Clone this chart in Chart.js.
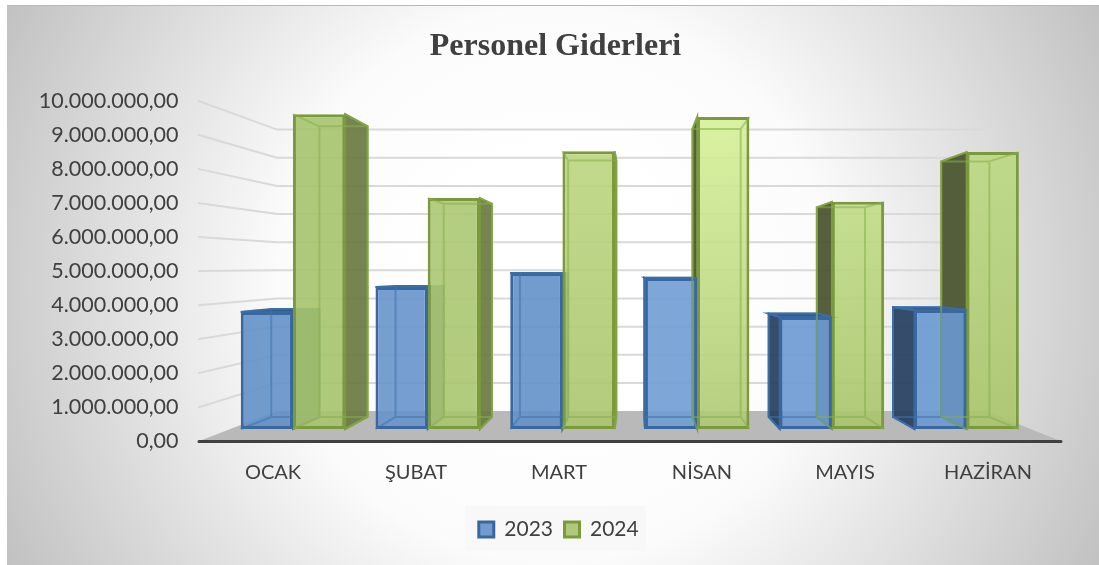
<!DOCTYPE html>
<html lang="tr">
<head>
<meta charset="utf-8">
<title>Personel Giderleri</title>
<style>html,body{margin:0;padding:0;background:#fff}#w{position:relative;width:1099px;height:565px}</style>
<script src="https://cdn.jsdelivr.net/npm/chart.js@4"></script>
</head>
<body>
<div id="w"><canvas id="c" width="1099" height="565"></canvas></div>
<script>
const categories = ['OCAK','ŞUBAT','MART','NİSAN','MAYIS','HAZİRAN'];
const series2023 = [3670000,4450000,4890000,4730000,3510000,3730000];
const series2024 = [9870000,7240000,8710000,9780000,7120000,8680000];
const yearLabels = ['2023','2024'];

const depth = {a:0.923, dx:49, dy:21};
const rear = f => ({x1:depth.dx+depth.a*f.x1, x2:depth.dx+depth.a*f.x2, t:depth.dy+depth.a*f.t, b:depth.dy+depth.a*f.b});
const wall = {a:0.826, dx:113.5, dy:46.4, left:198, backLeft:277, backRight:985, right:1062};
const greenTones = [['#a6c46c','#a6c46c'],['#acc873','#a9c56e'],['#bcd680','#a9c56e'],['#d6f198','#adc973'],['#c0dc85','#a9c56c'],['#bcd982','#a9c56c']];
const blueTone = ['#6491c9','#6894cb','#6491c9','#709dd3','#6c9ad3','#6a98d1'];
const edges = [
  {edge:'#38689f', wire:'rgba(60,115,175,.55)', left:'rgba(38,62,95,.92)', right:'rgba(45,80,125,.85)', top:'rgba(40,80,130,.95)'},
  {edge:'#7b9a3c', wire:'rgba(135,175,75,.55)', left:'rgba(72,82,45,.92)', right:'rgba(105,122,65,.92)', top:'rgba(105,122,65,.92)'}
];
function poly(ctx, pts, fill, stroke){
  ctx.beginPath();
  pts.forEach((p,i)=> i ? ctx.lineTo(p[0],p[1]) : ctx.moveTo(p[0],p[1]));
  ctx.closePath();
  if(fill){ctx.fillStyle=fill;ctx.fill();}
  if(stroke){ctx.strokeStyle=stroke;ctx.lineWidth=2;ctx.stroke();}
}
function faces(el){
  const w=el.width/2;
  const f={x1:el.x-w,x2:el.x+w,t:el.y,b:el.base};
  return {f,r:rear(f)};
}
function wire(chart,index){
  const ctx=chart.ctx, c=edges[index];
  ctx.save();
  ctx.strokeStyle=c.wire; ctx.lineWidth=2;
  chart.getDatasetMeta(index).data.forEach(el=>{
    const {f,r}=faces(el);
    ctx.beginPath();
    ctx.rect(r.x1,r.t,r.x2-r.x1,r.b-r.t);
    [[f.x1,f.t,r.x1,r.t],[f.x2,f.t,r.x2,r.t],[f.x1,f.b,r.x1,r.b],[f.x2,f.b,r.x2,r.b]].forEach(s=>{ctx.moveTo(s[0],s[1]);ctx.lineTo(s[2],s[3]);});
    ctx.stroke();
  });
  ctx.restore();
}
const box3d = {
  id:'box3d',
  beforeDraw(chart){
    const ctx=chart.ctx;
    const g=ctx.createRadialGradient(553,285,120,553,285,640);
    g.addColorStop(0,'#ffffff');
    g.addColorStop(.3,'#fbfbfb');
    g.addColorStop(1,'#bdbdbd');
    ctx.save();
    ctx.fillStyle=g;
    ctx.fillRect(7,5,1092,560);
    ctx.fillStyle='#b8b8b8';
    ctx.fillRect(7,5,1092,1);
    ctx.fillStyle='rgba(247,247,247,.9)';
    ctx.fillRect(465,506,181,45);
    ctx.restore();
  },
  afterLayout(chart){
    const xb=chart.scales.xBars, yb=chart.scales.yBars;
    xb.left=225.6; xb.right=1034; xb.width=808.4; xb.configure();
    yb.top=110; yb.bottom=429; yb.height=319; yb.configure();
    const t=chart.titleBlock; t.left=0; t.right=1111;
    const l=chart.legend; l.left+=29; l.right+=29; l.top+=6; l.bottom+=6;
  },
  beforeDatasetsDraw(chart){
    const ctx=chart.ctx, y=chart.scales.y;
    ctx.save();
    const fy=y.getPixelForValue(0), by=wall.dy+wall.a*fy;
    poly(ctx,[[wall.left,fy],[wall.right,fy],[wall.backRight,by],[wall.backLeft,by]],'#b9b9b9');
    ctx.strokeStyle='#d9d9d9'; ctx.lineWidth=2;
    y.ticks.forEach(t=>{
      if(t.value===0) return;
      const p=y.getPixelForValue(t.value), b=wall.dy+wall.a*p;
      ctx.beginPath();ctx.moveTo(wall.left,p);ctx.lineTo(wall.backLeft,b);ctx.lineTo(wall.backRight,b);ctx.stroke();
    });
    [1,0].forEach(ds=>{
      const c=edges[ds];
      chart.getDatasetMeta(ds).data.forEach(el=>{
        const {f,r}=faces(el);
        if(r.x2>f.x2) poly(ctx,[[f.x2,f.t],[r.x2,r.t],[r.x2,r.b],[f.x2,f.b]],c.right,c.edge);
        if(r.x1<f.x1) poly(ctx,[[f.x1,f.t],[r.x1,r.t],[r.x1,r.b],[f.x1,f.b]],c.left,c.edge);
        if(r.t<f.t) poly(ctx,[[f.x1,f.t],[r.x1,r.t],[r.x2,r.t],[f.x2,f.t]],c.top,c.edge);
      });
    });
    ctx.restore();
  },
  // the nearer series must be painted over the 2023 bars, so it is painted right after them
  beforeDatasetDraw(chart,args){
    if(args.index===1) return false;
  },
  afterDatasetDraw(chart,args){
    if(args.index!==0) return;
    wire(chart,0);
    chart.getDatasetMeta(1).controller.draw();
    wire(chart,1);
  },
  afterDatasetsDraw(chart){
    const ctx=chart.ctx, y=chart.scales.y, fy=y.getPixelForValue(0);
    ctx.save();
    ctx.strokeStyle='#404040'; ctx.lineWidth=3; ctx.lineCap='round';
    ctx.beginPath();ctx.moveTo(wall.left+1,fy);ctx.lineTo(wall.right-1,fy);ctx.stroke();
    ctx.restore();
  }
};
function alpha(hex,a){
  const n=parseInt(hex.slice(1),16);
  return `rgba(${n>>16},${(n>>8)&255},${n&255},${a})`;
}
function greenFill(ctx){
  if(ctx.type!=='data') return '#a9c56e';
  const yb=ctx.chart.scales.yBars;
  const t=greenTones[ctx.dataIndex];
  const y0=yb.getPixelForValue(series2024[ctx.dataIndex]), y1=yb.getPixelForValue(0);
  if(!isFinite(y0)||!isFinite(y1)) return alpha(t[1],.9);
  const g=ctx.chart.ctx.createLinearGradient(0,y0,0,y1);
  g.addColorStop(0,alpha(t[0],.9));
  g.addColorStop(1,alpha(t[1],.9));
  return g;
}
function blueFill(ctx){
  if(ctx.type!=='data') return '#6491c9';
  return alpha(blueTone[ctx.dataIndex],.9);
}
Chart.defaults.font.family='Lato';
Chart.defaults.color='#404040';
new Chart(document.getElementById('c'),{
  type:'bar',
  plugins:[box3d],
  data:{
    labels:categories,
    datasets:[
      {label:yearLabels[0],data:series2023,xAxisID:'xBars',yAxisID:'yBars',backgroundColor:blueFill,borderColor:edges[0].edge,borderWidth:3,borderSkipped:false,categoryPercentage:.775,barPercentage:1},
      {label:yearLabels[1],data:series2024,xAxisID:'xBars',yAxisID:'yBars',backgroundColor:greenFill,borderColor:edges[1].edge,borderWidth:3,borderSkipped:false,categoryPercentage:.775,barPercentage:1}
    ]
  },
  options:{
    responsive:false,
    animation:false,
    layout:{padding:{top:20,bottom:21,left:0,right:39.5}},
    plugins:{
      tooltip:{enabled:false},
      title:{display:true,text:'Personel Giderleri',align:'center',color:'#404040',font:{family:'Liberation Serif',size:32,weight:'bold'},padding:{top:8,bottom:34.3}},
      legend:{display:true,position:'bottom',labels:{boxWidth:15,boxHeight:15,padding:11.5,color:'#404040',font:{size:21}}}
    },
    scales:{
      x:{type:'category',position:'bottom',grid:{display:false},border:{display:false},
         afterFit(s){s.height=60;},
         ticks:{font:{size:20},color:'#404040',padding:11,maxRotation:0,autoSkip:false}},
      y:{type:'linear',position:'left',min:0,max:10000000,grid:{display:false},border:{display:false},
         afterFit(s){s.width=201.5;},
         ticks:{stepSize:1000000,padding:15,font:{size:21.5},color:'#404040',
           callback(v){return String(v).replace(/\B(?=(\d{3})+$)/g,'.')+',00';}}},
      xBars:{type:'category',position:'bottom',display:false,grid:{display:false}},
      yBars:{type:'linear',position:'left',display:false,min:0,max:10000000,grid:{display:false}}
    }
  }
});
</script>
</body>
</html>
